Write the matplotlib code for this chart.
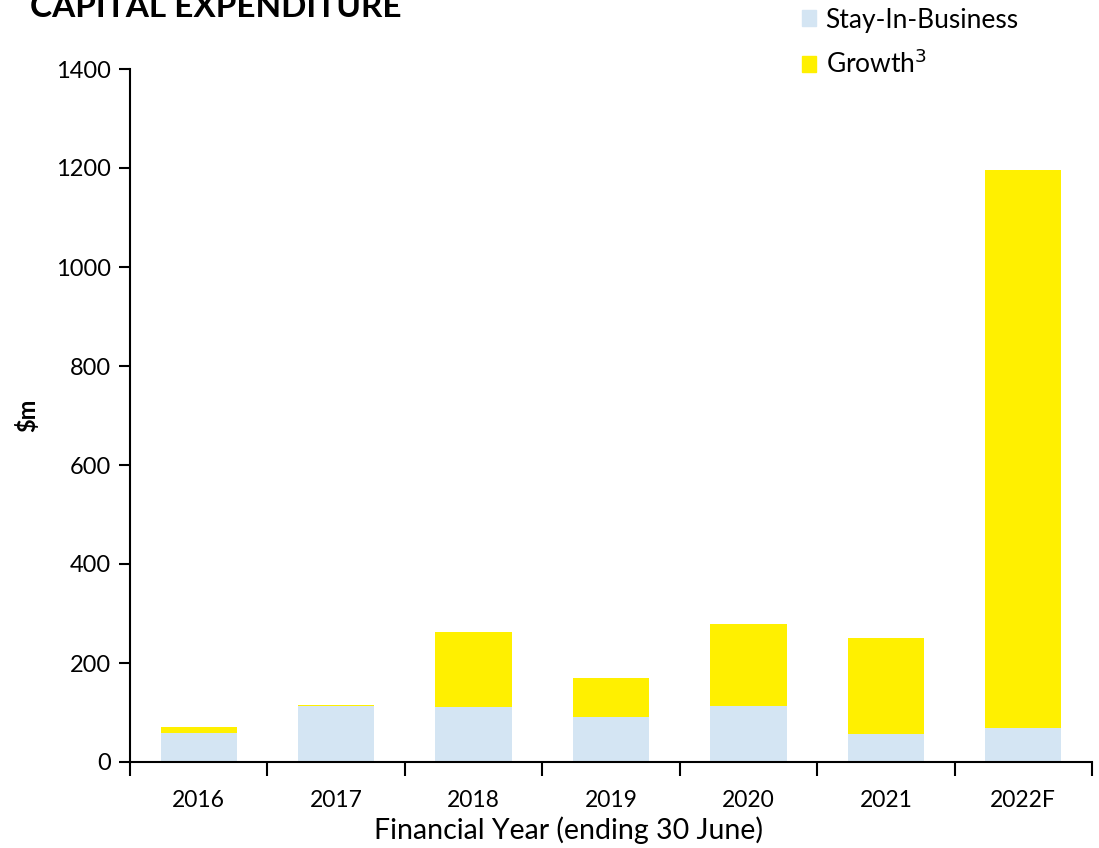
import matplotlib
matplotlib.use("Agg")
import matplotlib.pyplot as plt
from matplotlib.patches import Patch

years = ["2016", "2017", "2018", "2019", "2020", "2021", "2022F"]
stay_in_business = [58, 113, 112, 90, 114, 57, 69]
growth = [13, 2, 150, 80, 165, 194, 1127]
yticks = [0, 200, 400, 600, 800, 1000, 1200, 1400]

blue = "#D4E5F3"
yellow = "#FFF000"

plt.rcParams['font.family'] = ['Lato', 'DejaVu Sans']

fig = plt.figure(figsize=(10.99, 8.48), dpi=100)
ax = fig.add_axes([130/1099, 1-762/848, (1092-130)/1099, (762-69)/848])

x = list(range(len(years)))
ax.bar(x, stay_in_business, width=0.555, color=blue, label="Stay-In-Business")
ax.bar(x, growth, width=0.555, bottom=stay_in_business, color=yellow, label="Growth$^3$")

ax.set_xlim(-0.5, len(years) - 0.5)
ax.set_ylim(0, 1400)
ax.set_yticks(yticks)
ax.set_yticklabels([str(v) for v in yticks], fontsize=17)

ax.set_xticks([i - 0.5 for i in range(len(years) + 1)])
ax.set_xticklabels([])
ax.set_xticks(x, minor=True)
ax.set_xticklabels(years, minor=True, fontsize=16.5)
ax.tick_params(axis='x', which='minor', length=0, pad=20)
ax.tick_params(axis='x', which='major', length=10, width=1.5, direction='out')
ax.tick_params(axis='y', length=8, width=1.5, direction='out', pad=6)

for s in ['top', 'right']:
    ax.spines[s].set_visible(False)
for s in ['left', 'bottom']:
    ax.spines[s].set_linewidth(1.5)

ax.set_xlabel("Financial Year (ending 30 June)", fontsize=20.5, labelpad=4, x=0.456)
ax.set_ylabel("$m", fontsize=17, fontweight='bold', labelpad=12)

fig.text(30/1099, 1-17/848, "CAPITAL EXPENDITURE", fontsize=24, fontweight='bold',
         ha='left', va='baseline')

handles = [Patch(color=blue, label="Stay-In-Business"),
           Patch(color=yellow, label="Growth$^3$")]
fig.legend(handles=handles, loc='upper left', bbox_to_anchor=(778/1099, 1.0 + 16/848),
           frameon=False, prop={'size': 19},
           handlelength=0.55, handleheight=0.55,
           handletextpad=0.35, labelspacing=0.65)

fig.savefig("out.png", dpi=100)
